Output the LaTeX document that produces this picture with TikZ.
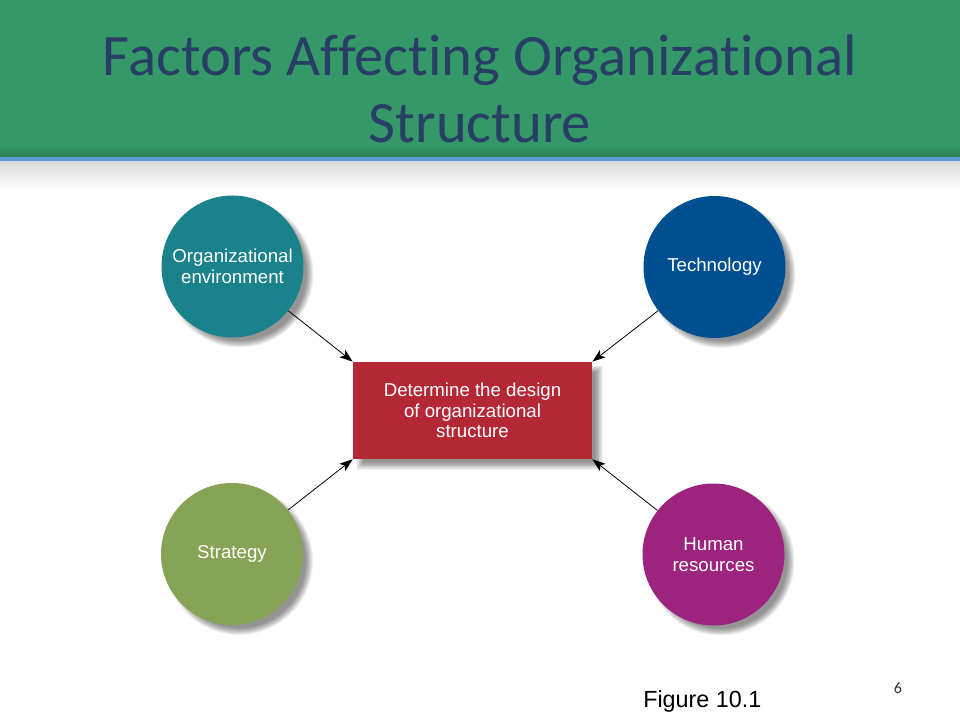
\documentclass[tikz,border=0pt]{standalone}
\usepackage{fontspec}
\setmainfont{Liberation Sans}
\newfontfamily\titlefont[Ligatures={NoCommon}]{Carlito}
\usetikzlibrary{arrows.meta,calc}
\definecolor{band}{RGB}{52,152,104}
\definecolor{bandline}{RGB}{91,155,213}
\definecolor{titlecol}{RGB}{40,62,100}
\definecolor{cteal}{RGB}{26,130,138}
\definecolor{cblue}{RGB}{0,80,145}
\definecolor{cgreen}{RGB}{135,164,86}
\definecolor{cpurple}{RGB}{156,35,126}
\definecolor{cred}{RGB}{180,40,54}
\tikzset{
  titletext/.style={font=\titlefont\fontsize{44}{50}\selectfont, text=titlecol, inner sep=0pt},
  factor/.style={circle, minimum size=106.5pt, inner sep=0pt, text=white, align=center,
    font=\fontsize{14}{15.5}\selectfont},
  centerbox/.style={rectangle, minimum width=179.25pt, minimum height=72.75pt, inner sep=0pt,
    fill=cred, text=white, align=center, font=\fontsize{14}{15.5}\selectfont},
  conn/.style={-{Stealth[length=10pt,width=7pt,inset=2.5pt]}, line width=0.6pt, black},
  shadowlayer/.style={fill=black, opacity=0.05}
}
\begin{document}
\begin{tikzpicture}[x=0.75pt,y=-0.75pt]
\useasboundingbox (0,0) rectangle (960,720);
\fill[white] (0,0) rectangle (960,720);
% title band
\shade[top color=black!14, bottom color=white] (0,161) rectangle (960,190);
\fill[band] (0,0) rectangle (960,146);
\shade[top color=band, bottom color=band!82!black] (0,145.5) rectangle (960,158);
\fill[bandline] (0,157.5) rectangle (960,161.5);
\node[titletext, anchor=base] (t1) at (480,76) {Factors Affecting Organizational};
\node[titletext, anchor=base] (t2) at (480,143) {Structure};
% positions
\coordinate (penv) at (232.5,266.5);
\coordinate (ptech) at (714.5,267);
\coordinate (pstrat) at (232,554);
\coordinate (phum) at (713.5,554.5);
% soft shadows
\foreach \p in {penv,ptech,pstrat,phum}{
  \foreach \k in {0,...,9}{
    \fill[shadowlayer] ($(\p)+(7,7)$) circle[radius={55.5pt-\k*0.6pt}];
  }
}
\foreach \k in {0,...,9}{
  \pgfmathsetmacro{\d}{3.5-\k*0.8}
  \fill[shadowlayer] ({360-\d},{369-\d}) rectangle ({599+\d},{466+\d});
}
% nodes
\node[factor, fill=cteal] (env) at (penv) {Organizational\\environment};
\node[factor, fill=cblue] (tech) at (ptech) {Technology};
\node[factor, fill=cgreen] (strat) at (pstrat) {Strategy};
\node[factor, fill=cpurple] (hum) at (phum) {Human\\resources};
\node[centerbox] (box) at (472.5,410.5) {Determine the design\\of organizational\\structure};
% connectors
\draw[conn] (env) -- (box.north west);
\draw[conn] (tech) -- (box.north east);
\draw[conn] (strat) -- (box.south west);
\draw[conn] (hum) -- (box.south east);
% footer
\node[anchor=base west, inner sep=0pt, font=\fontsize{17.5}{20}\selectfont] (fig) at (643,707) {Figure 10.1};
\node[anchor=base, inner sep=0pt, font=\titlefont\fontsize{12}{14}\selectfont, text=black!80] (num) at (898,693) {6};
\end{tikzpicture}
\end{document}
